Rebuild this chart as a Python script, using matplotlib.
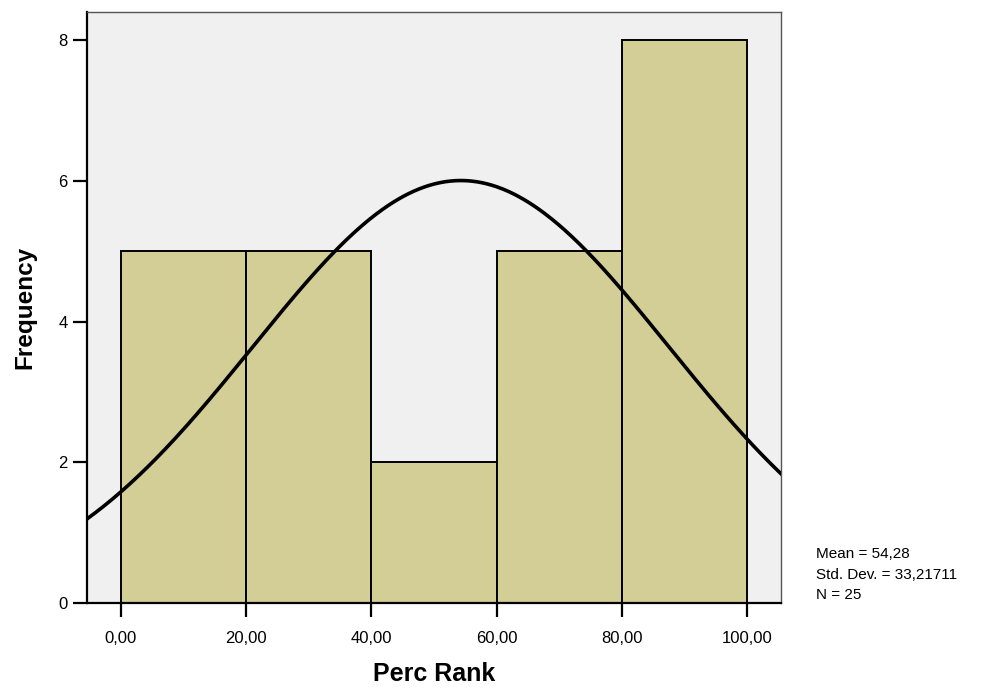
import matplotlib.pyplot as plt
import numpy as np

plt.rcParams['font.family'] = ['Liberation Sans', 'DejaVu Sans']

# histogram bins and counts
bin_edges = [0, 20, 40, 60, 80, 100]
counts = [5, 5, 2, 5, 8]

# summary stats shown in the legend
mean = 54.28
std_dev = 33.21711
n = 25

xticks = [0, 20, 40, 60, 80, 100]
xtick_labels = ['0,00', '20,00', '40,00', '60,00', '80,00', '100,00']
yticks = [0, 2, 4, 6, 8]

fig = plt.figure(figsize=(9.9, 6.88), dpi=100)
ax = fig.add_axes([0.0879, 0.1235, 0.701, 0.859])
ax.set_facecolor('#f0f0f0')

widths = np.diff(bin_edges)
ax.bar(bin_edges[:-1], counts, width=widths, align='edge',
       color='#d3ce96', edgecolor='black', linewidth=1.4, zorder=2)

# normal curve scaled to counts
xlo, xhi = -5.4, 105.4
xs = np.linspace(xlo, xhi, 400)
bw = widths[0]
ys = n * bw / (std_dev * np.sqrt(2 * np.pi)) * np.exp(-0.5 * ((xs - mean) / std_dev) ** 2)
ax.plot(xs, ys, color='black', linewidth=2.6, zorder=3, clip_on=True)

ax.set_xlim(xlo, xhi)
ax.set_ylim(0, 8.4)
ax.set_xticks(xticks)
ax.set_xticklabels(xtick_labels)
ax.set_yticks(yticks)
ax.tick_params(axis='both', direction='out', length=10, width=1.6, labelsize=12, pad=10)
ax.tick_params(axis='y', pad=4)

for s in ['left', 'bottom']:
    ax.spines[s].set_linewidth(1.6)
    ax.spines[s].set_color('black')
for s in ['top', 'right']:
    ax.spines[s].set_linewidth(1.0)
    ax.spines[s].set_color('#555555')

ax.set_xlabel('Perc Rank', fontsize=18, fontweight='bold', labelpad=12)
ax.set_ylabel('Frequency', fontsize=17.5, fontweight='bold', labelpad=16)

stats = 'Mean = %s\nStd. Dev. = %s\nN = %d' % (
    ('%.2f' % mean).replace('.', ','), ('%.5f' % std_dev).replace('.', ','), n)
fig.text(816 / 990, 1 - 547 / 688, stats, fontsize=11, va='top', ha='left', linespacing=1.6)

fig.savefig('out.png', dpi=100)
